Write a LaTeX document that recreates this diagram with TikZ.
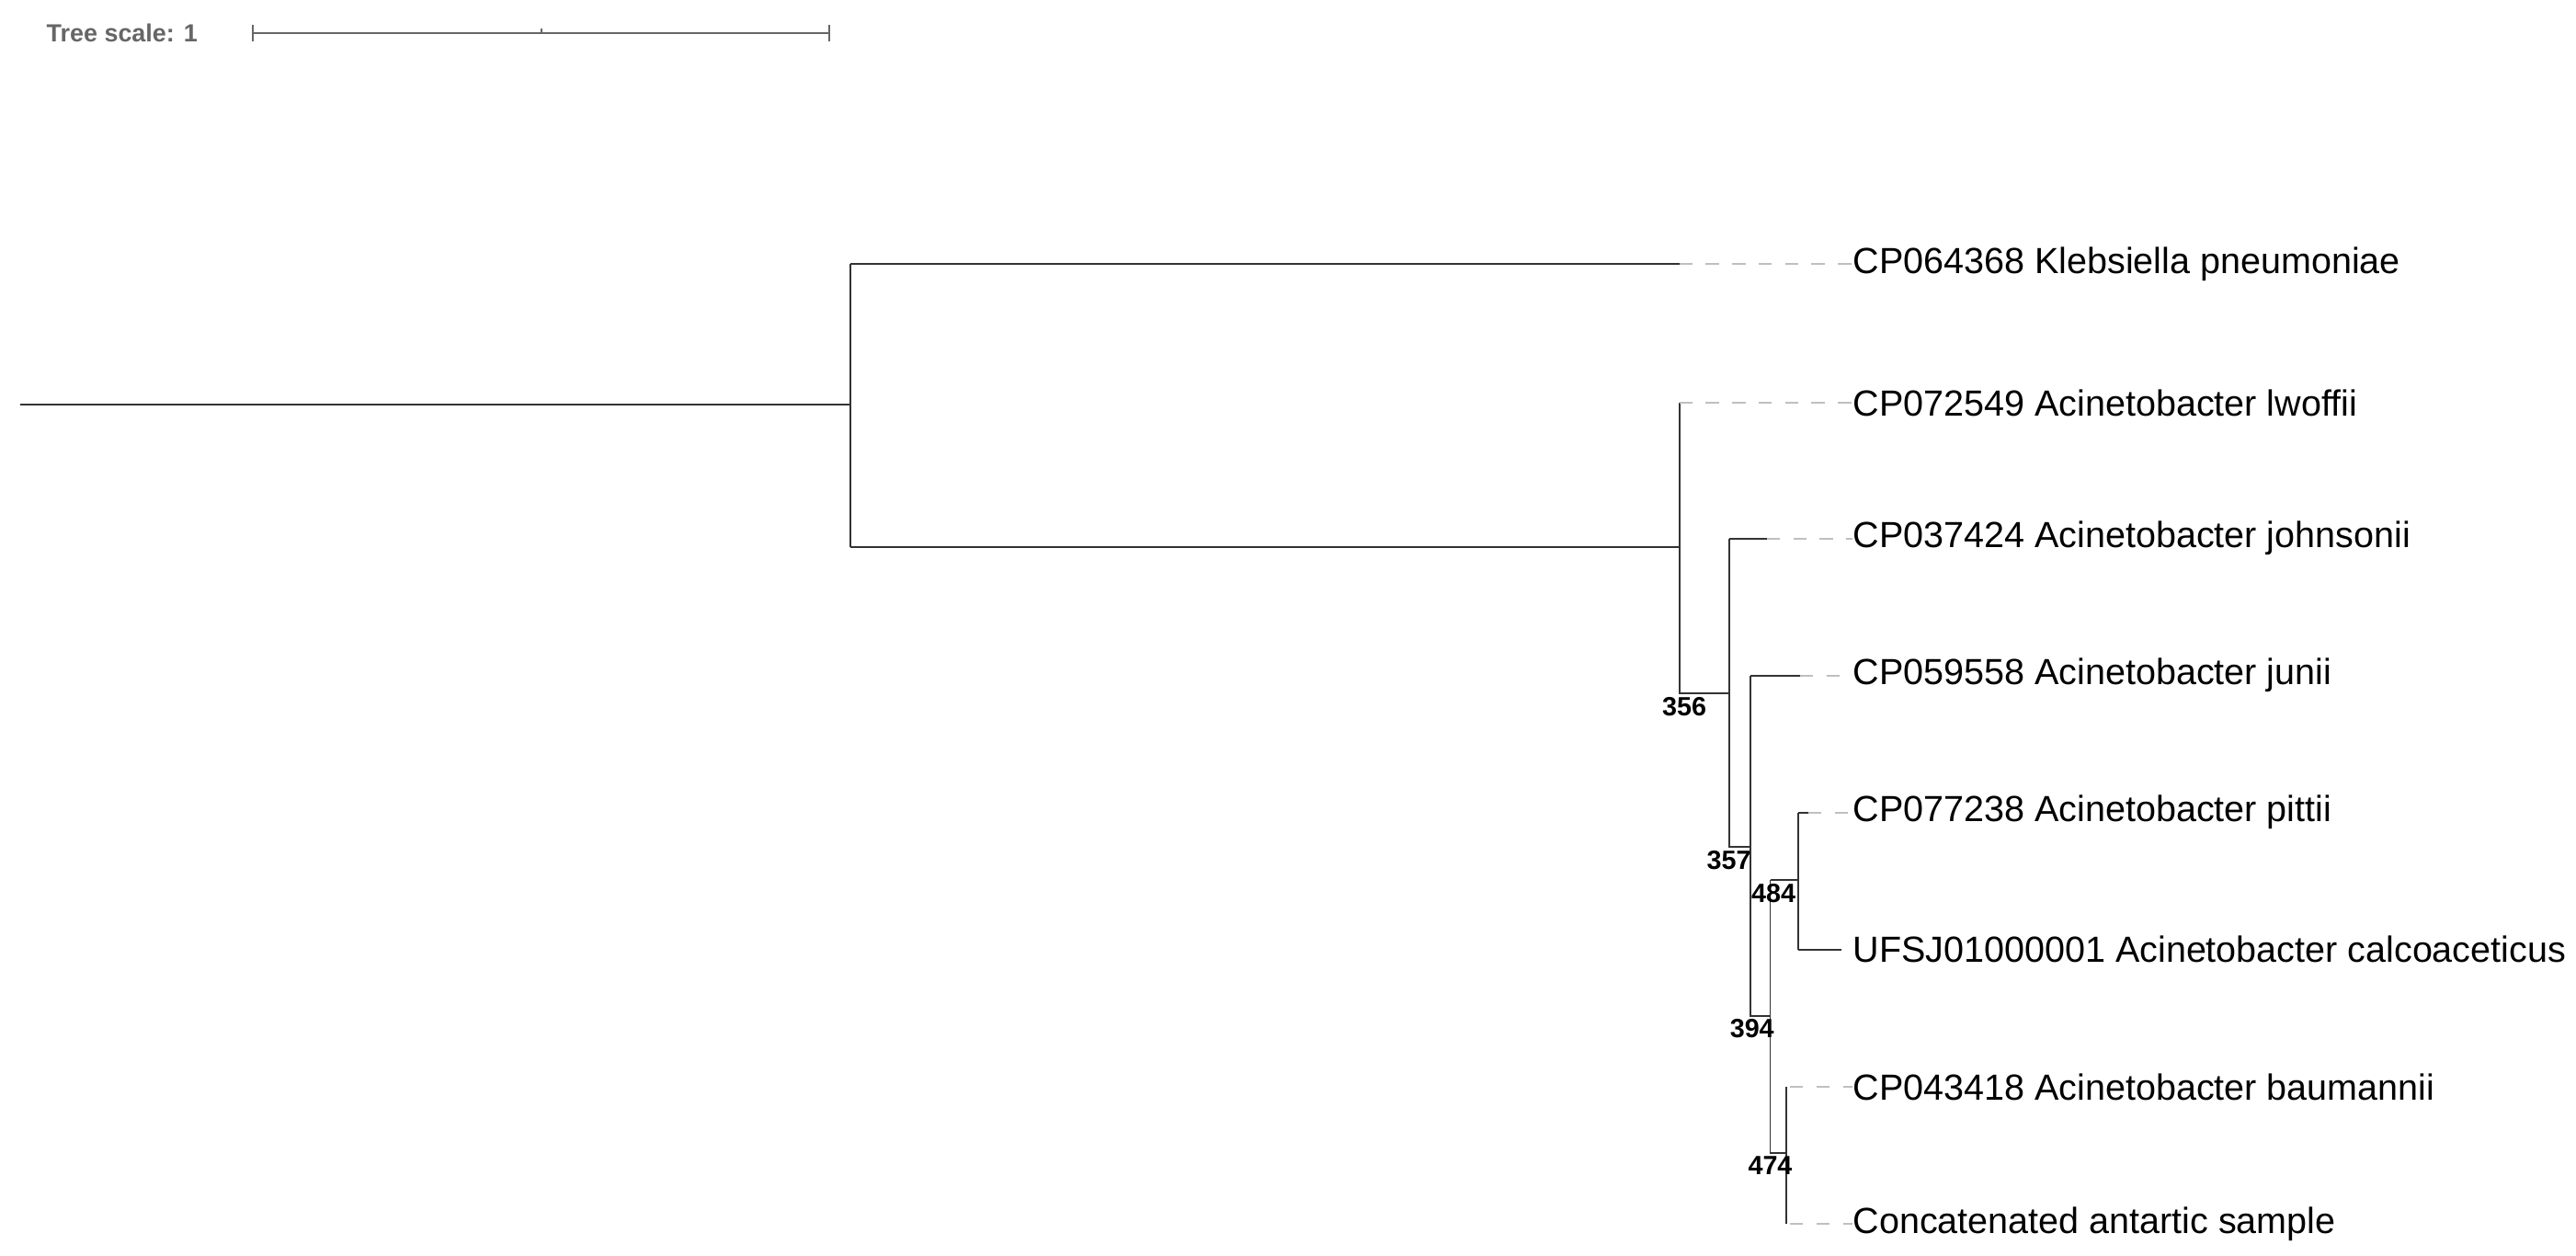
\documentclass[tikz,border=0pt]{standalone}
\usepackage{fontspec}
\setmainfont{Liberation Sans}
\begin{document}
\begin{tikzpicture}[x=1pt,y=-1pt,
  br/.style={draw=black!80,line width=1.1pt},
  dl/.style={draw=black!25,line width=1.1pt,dash pattern=on 8pt off 8pt},
  lab/.style={anchor=west,inner sep=0pt,font=\fontsize{22}{24}\selectfont},
  bs/.style={inner sep=0pt,font=\bfseries\fontsize{16}{18}\selectfont}]
\useasboundingbox (0,0) rectangle (1560,760);
% scale
\node[anchor=west,inner sep=0pt,text=black!60,font=\bfseries\fontsize{15}{17}\selectfont] (ts) at (28,20) {Tree scale: 1};
\coordinate (s1) at (153,20); \coordinate (s2) at (502,20); \coordinate (sm) at (328,20);
\draw[draw=black!60,line width=1.1pt] (s1) -- (s2);
\draw[draw=black!60,line width=1.1pt] ([yshift=-5]s1) -- ([yshift=5]s1);
\draw[draw=black!60,line width=1.1pt] ([yshift=-5]s2) -- ([yshift=5]s2);
\draw[draw=black!60,line width=1pt] (sm) -- ([yshift=3]sm);
% nodes
\coordinate (r0) at (12,245);
\coordinate (R) at (515,245);
\coordinate (A) at (1017,331);
\coordinate (B) at (1047,420);
\coordinate (C) at (1060,513);
\coordinate (E) at (1072,615);
\coordinate (D) at (1089,533);
\coordinate (F) at (1082,698);
% tips
\coordinate (t1) at (1017,160); \coordinate (t2) at (1017,244);
\coordinate (t3) at (1070,326); \coordinate (t4) at (1090,409);
\coordinate (t5) at (1095,492); \coordinate (t6) at (1115,575);
\coordinate (t7) at (1084,658); \coordinate (t8) at (1084,741);
\node[lab] (l1) at (1122,160) {CP064368 Klebsiella pneumoniae};
\node[lab] (l2) at (1122,244) {CP072549 Acinetobacter lwoffii};
\node[lab] (l3) at (1122,326) {CP037424 Acinetobacter johnsonii};
\node[lab] (l4) at (1122,409) {CP059558 Acinetobacter junii};
\node[lab] (l5) at (1122,492) {CP077238 Acinetobacter pittii};
\node[lab] (l6) at (1122,575) {UFSJ01000001 Acinetobacter calcoaceticus};
\node[lab] (l7) at (1122,658) {CP043418 Acinetobacter baumannii};
\node[lab] (l8) at (1122,741) {Concatenated antartic sample};
% branches
\draw[br] (r0) -- (R);
\draw[br] (515,160) -- (515,331);
\draw[br] (515,160) -- (t1);
\draw[br] (515,331) -- (A);
\draw[br] (1017,244) -- (1017,420) -- (B);
\draw[br] (t2) -- (1017,244);
\draw[br] (1047,326) -- (1047,513) -- (C);
\draw[br] (1047,326) -- (t3);
\draw[br] (1060,409) -- (1060,615) -- (E);
\draw[br] (1060,409) -- (t4);
\draw[br] (1072,533) -- (1072,698) -- (F);
\draw[br] (1072,533) -- (D);
\draw[br] (1089,492) -- (1089,575);
\draw[br] (1089,492) -- (t5);
\draw[br] (1089,575) -- (t6);
\draw[br] (1082,658) -- (1082,741);
% dashed
\draw[dl] (t1) -- (l1.west); \draw[dl] (t2) -- (l2.west);
\draw[dl] (t3) -- (l3.west); \draw[dl] (t4) -- (l4.west);
\draw[dl] (t5) -- (l5.west); \draw[dl] (t7) -- (l7.west);
\draw[dl] (t8) -- (l8.west);
% bootstrap
\node[bs] (b1) at (1020,428) {356};
\node[bs] (b2) at (1047,521) {357};
\node[bs] (b3) at (1074,541) {484};
\node[bs] (b4) at (1061,623) {394};
\node[bs] (b5) at (1072,706) {474};
\end{tikzpicture}
\end{document}
